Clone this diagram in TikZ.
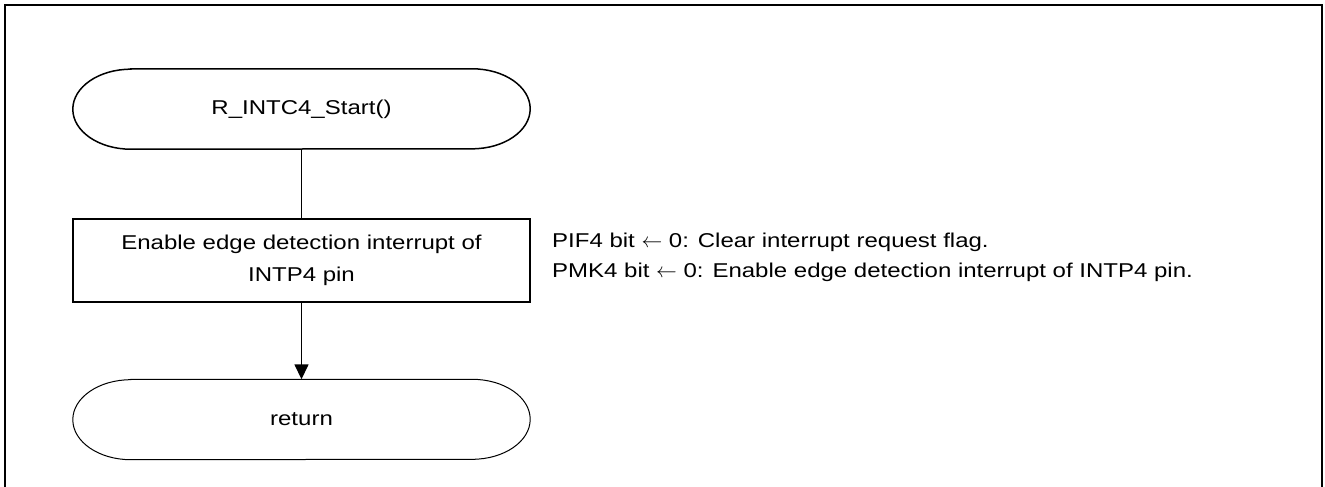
\documentclass[tikz,border=0pt]{standalone}
\usepackage{fontspec}
\setmainfont{Liberation Sans}[FakeStretch=1.2]
\usetikzlibrary{arrows.meta}
% draws the rounded terminal outline around a named node
\newcommand\terminaloutline[2]{%
  \draw[line width=#2]
    ([xshift=58pt]#1.north west) -- ([xshift=-58pt]#1.north east)
    arc[start angle=90,end angle=-90,x radius=58pt,y radius=40pt]
    -- ([xshift=58pt]#1.south west)
    arc[start angle=270,end angle=90,x radius=58pt,y radius=40pt] -- cycle;}
\newcommand\getsarrow{\ensuremath{\leftarrow}}
\begin{document}
\begin{tikzpicture}[x=1pt,y=-1pt,
  txt/.style={font=\fontsize{20}{32}\selectfont},
  terminal/.style={minimum width=457pt, minimum height=80pt, inner sep=0pt, txt},
  procbox/.style={draw, line width=1.5pt, minimum width=457pt, minimum height=83pt,
    align=center, inner sep=0pt, txt},
  note/.style={anchor=base west, inner sep=0pt, txt},
  flow/.style={line width=1.5pt},
  flowarrow/.style={flow, -{Triangle[length=15pt,width=14pt]}}]
  \useasboundingbox (0,0) rectangle (1325,487);
  % outer frame, open at the bottom
  \draw[line width=2.5pt] (5,495) -- (5,5) -- (1322,5) -- (1322,495);

  \node[terminal] (start) at (301.5,109) {R\_INTC4\_Start()};
  \terminaloutline{start}{1.5pt}

  \node[procbox] (enable) at (301.5,260.5)
    {Enable edge detection interrupt of\\INTP4 pin};

  \node[terminal] (ret) at (301.5,419.5) {return};
  \terminaloutline{ret}{1pt}

  \draw[flow] (start.south) -- (enable.north);
  \draw[flowarrow] (enable.south) -- (ret.north);

  \node[note] (pif) at (552,247) {PIF4 bit \getsarrow{} 0: Clear interrupt request flag.};
  \node[note] (pmk) at (552,277) {PMK4 bit \getsarrow{} 0: Enable edge detection interrupt of INTP4 pin.};
\end{tikzpicture}
\end{document}
